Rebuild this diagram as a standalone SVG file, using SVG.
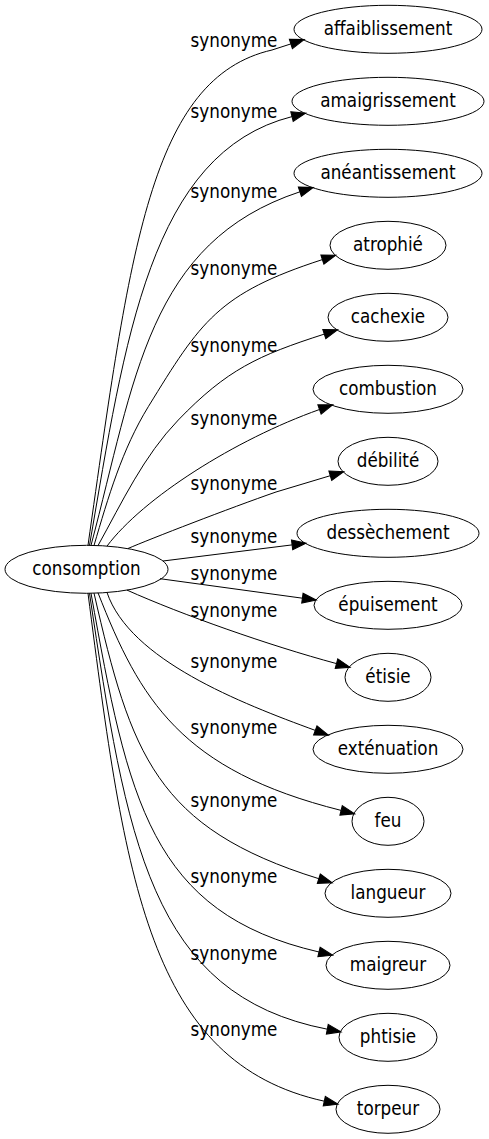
<svg xmlns="http://www.w3.org/2000/svg" width="489" height="1139" viewBox="0 0 489 1139">
<style>
text{font-family:"DejaVu Sans Condensed","DejaVu Sans",sans-serif;font-stretch:condensed;font-size:18.67px;fill:#000;text-anchor:middle}
ellipse{fill:none;stroke:#000;stroke-width:1}
.e path{fill:none;stroke:#000;stroke-width:1;marker-end:url(#ah)}
</style>
<defs>
<marker id="ah" markerUnits="userSpaceOnUse" markerWidth="14" markerHeight="10" viewBox="0 0 13.33 9.33" refX="0" refY="4.67" orient="auto" overflow="visible">
<path d="M0,0 L13.33,4.67 L0,9.33 z" fill="#000" stroke="#000" stroke-width="1"/>
</marker>
</defs>
<rect width="489" height="1139" fill="#fff"/>
<g id="edges" class="e">
<path d="M88,545.3 C130,250 150,78 272,50 L290.9,43.9"/>
<path d="M89.5,545.3 C125,340 150,152.6 292,116.6"/>
<path d="M91,545.4 C135,380 147.9,242 299.9,191.8"/>
<path d="M94,545.5 C108.1,497.6 122.1,449.3 148.3,406.7 C200.7,321.5 217.8,293.5 322.4,259.6"/>
<path d="M98,545.6 C122.3,501.9 143.6,455.9 178.3,420 C226.9,369.7 257.7,355.5 324.3,334.1"/>
<path d="M107,546.1 C143,498.1 234.7,439.7 319.5,409.5"/>
<path d="M128,548.5 C150,539 230,508 276,492 L330.3,475.7"/>
<path d="M163,561 L292.1,544.9"/>
<path d="M160,578.7 L302.4,598.2"/>
<path d="M127,590.1 C181.6,614.6 269,645.4 336.5,663.6"/>
<path d="M107,592.5 C130,660 240.2,702.9 315.3,730.4"/>
<path d="M98,592.8 C140,700 181,770.3 341.1,810.4"/>
<path d="M94,593.1 C131,754.5 155.7,828 318.8,878.7"/>
<path d="M91,593.2 C128,800 150.5,913.1 319,952"/>
<path d="M89.5,593.3 C126.5,839.6 149.9,994.9 327.3,1029.2"/>
<path d="M88,593.3 C125,880 148.4,1062.7 324.3,1101.2"/>
</g>
<g id="labels">
<text x="234" y="46.7">synonyme</text>
<text x="234" y="118.3">synonyme</text>
<text x="234" y="198.3">synonyme</text>
<text x="234" y="275">synonyme</text>
<text x="234" y="351.7">synonyme</text>
<text x="234" y="425">synonyme</text>
<text x="234" y="490">synonyme</text>
<text x="234" y="543.3">synonyme</text>
<text x="234" y="580">synonyme</text>
<text x="234" y="616.7">synonyme</text>
<text x="234" y="668.3">synonyme</text>
<text x="234" y="734">synonyme</text>
<text x="234" y="807.3">synonyme</text>
<text x="234" y="882.7">synonyme</text>
<text x="234" y="960">synonyme</text>
<text x="234" y="1035.7">synonyme</text>
</g>
<g id="consomption"><ellipse cx="86.5" cy="569.3" rx="81.5" ry="24"/><text x="86.5" y="574.9">consomption</text></g>
<g id="affaiblissement"><ellipse cx="388" cy="29.3" rx="94" ry="24"/><text x="388" y="34.9">affaiblissement</text></g>
<g id="amaigrissement"><ellipse cx="388" cy="101.3" rx="96" ry="24"/><text x="388" y="106.9">amaigrissement</text></g>
<g id="aneantissement"><ellipse cx="388" cy="173.3" rx="94" ry="24"/><text x="388" y="178.9">anéantissement</text></g>
<g id="atrophie"><ellipse cx="388" cy="245.3" rx="58" ry="24"/><text x="388" y="250.9">atrophié</text></g>
<g id="cachexie"><ellipse cx="388" cy="317.3" rx="60" ry="24"/><text x="388" y="322.9">cachexie</text></g>
<g id="combustion"><ellipse cx="388" cy="389.3" rx="75" ry="24"/><text x="388" y="394.9">combustion</text></g>
<g id="debilite"><ellipse cx="388" cy="461.3" rx="50" ry="24"/><text x="388" y="466.9">débilité</text></g>
<g id="dessechement"><ellipse cx="388" cy="533.3" rx="91" ry="24"/><text x="388" y="538.9">dessèchement</text></g>
<g id="epuisement"><ellipse cx="388" cy="605.3" rx="74" ry="24"/><text x="388" y="610.9">épuisement</text></g>
<g id="etisie"><ellipse cx="388" cy="677.3" rx="43" ry="24"/><text x="388" y="682.9">étisie</text></g>
<g id="extenuation"><ellipse cx="388" cy="749.3" rx="75" ry="24"/><text x="388" y="754.9">exténuation</text></g>
<g id="feu"><ellipse cx="388" cy="821.3" rx="36" ry="24"/><text x="388" y="826.9">feu</text></g>
<g id="langueur"><ellipse cx="388" cy="893.3" rx="63" ry="24"/><text x="388" y="898.9">langueur</text></g>
<g id="maigreur"><ellipse cx="388" cy="965.3" rx="62" ry="24"/><text x="388" y="970.9">maigreur</text></g>
<g id="phtisie"><ellipse cx="388" cy="1037.3" rx="49" ry="24"/><text x="388" y="1042.9">phtisie</text></g>
<g id="torpeur"><ellipse cx="388" cy="1109.3" rx="52" ry="24"/><text x="388" y="1114.9">torpeur</text></g>
</svg>
